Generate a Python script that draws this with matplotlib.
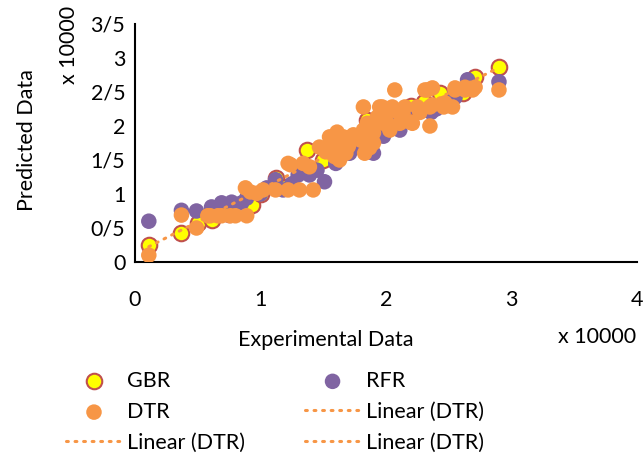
import matplotlib
matplotlib.use("Agg")
import matplotlib.pyplot as plt
import numpy as np
from matplotlib.ticker import FuncFormatter

plt.rcParams['font.family'] = ['Lato', 'DejaVu Sans']

# values in units of 10000
gbr_x = [0.11, 0.37, 0.50, 0.61, 0.75, 0.93, 1.00, 1.12, 1.20, 1.37, 1.50, 1.60,
         1.70, 1.85, 2.00, 2.20, 2.30, 2.43, 2.61, 2.71, 2.90]
gbr_y = [0.25, 0.43, 0.57, 0.62, 0.70, 0.84, 1.00, 1.23, 1.10, 1.65, 1.50, 1.60,
         1.80, 2.09, 2.10, 2.30, 2.35, 2.49, 2.49, 2.72, 2.87]

rfr_x = [0.11, 0.37, 0.49, 0.61, 0.69, 0.77, 0.85, 0.89, 1.00, 1.05, 1.12, 1.18,
         1.25, 1.30, 1.39, 1.45, 1.51, 1.60, 1.71, 1.75, 1.87, 1.90, 1.95, 1.98,
         2.03, 2.11, 2.15, 2.28, 2.36, 2.40, 2.46, 2.55, 2.55, 2.65, 2.90]
rfr_y = [0.60, 0.76, 0.75, 0.81, 0.87, 0.88, 0.87, 0.94, 1.00, 1.09, 1.21, 1.06,
         1.15, 1.28, 1.28, 1.35, 1.18, 1.45, 1.60, 1.70, 1.62, 1.60, 2.00, 1.85,
         2.15, 1.94, 2.22, 2.22, 2.20, 2.25, 2.30, 2.42, 2.50, 2.68, 2.65]

dtr_x = [0.11, 0.37, 0.49, 0.58, 0.60, 0.66, 0.69, 0.76, 0.80, 0.89, 0.88, 0.92,
         0.97, 1.02, 1.12, 1.22, 1.31, 1.42, 1.24, 1.34, 1.39, 1.22, 1.47, 1.55,
         1.59, 1.63, 1.66, 1.74, 1.82, 1.82, 1.97, 1.90, 1.98, 2.07, 2.33, 2.37,
         2.55, 2.63, 2.69, 2.90, 1.95, 2.05, 2.15, 2.25, 2.35, 2.46, 2.53, 2.35,
         1.93, 2.14, 2.19, 1.90, 2.03, 1.85, 1.93, 2.01, 2.11, 2.21, 1.61, 1.72,
         1.80, 1.87, 1.83, 1.68, 1.63, 2.31, 2.47, 2.55, 2.63, 2.71, 2.37, 2.45,
         1.52, 1.58, 1.70, 2.00, 2.08, 2.27]
dtr_y = [0.10, 0.69, 0.50, 0.68, 0.68, 0.68, 0.68, 0.68, 0.68, 0.68, 1.09, 1.03,
         1.01, 1.06, 1.06, 1.06, 1.06, 1.06, 1.43, 1.45, 1.40, 1.45, 1.69, 1.84,
         1.55, 1.50, 1.84, 1.87, 1.94, 2.28, 2.28, 1.90, 2.04, 2.53, 2.53, 2.56,
         2.53, 2.53, 2.53, 2.53, 2.28, 2.28, 2.28, 2.28, 2.28, 2.28, 2.28, 2.00,
         2.13, 2.09, 2.06, 1.75, 1.94, 2.04, 2.04, 2.04, 2.04, 2.04, 1.91, 1.84,
         1.79, 1.68, 1.60, 1.60, 1.74, 2.53, 2.34, 2.56, 2.57, 2.57, 2.31, 2.31,
         1.62, 1.72, 1.70, 2.18, 2.22, 2.20]

x_ticks = [0, 1, 2, 3, 4]
y_ticks = [0, 0.5, 1, 1.5, 2, 2.5, 3, 3.5]

ORANGE = '#F79646'
PURPLE = '#8064A2'
YELLOW = '#FFFF00'
RED = '#C0504D'
FS = 15.5

fig = plt.figure(figsize=(6.43, 4.58), dpi=100)
ax = fig.add_axes([135/643, 1-262/458, 502/643, 238/458])

s = 125
sc_g = ax.scatter(gbr_x, gbr_y, s=s, c=YELLOW, edgecolors=RED, linewidths=1.5, label='GBR', zorder=2)
sc_r = ax.scatter(rfr_x, rfr_y, s=s, c=PURPLE, edgecolors='none', label='RFR', zorder=3)
sc_d = ax.scatter(dtr_x, dtr_y, s=s, c=ORANGE, edgecolors='none', label='DTR', zorder=4)

# linear trendline of DTR
m, b = np.polyfit(dtr_x, dtr_y, 1)
tx = np.array([min(dtr_x), max(dtr_x)])
trend, = ax.plot(tx, m*tx + b, color=ORANGE, lw=2.2, ls=(0, (0.6, 2.2)),
                 dash_capstyle='round', zorder=5)

ax.set_xlim(0, 4)
ax.set_ylim(0, 3.5)
ax.set_xticks(x_ticks)
ax.set_yticks(y_ticks)
ax.yaxis.set_major_formatter(FuncFormatter(lambda v, p: f"{v:g}".replace('.', '/')))
ax.tick_params(length=0, labelsize=FS)
ax.tick_params(axis='x', pad=20)
ax.tick_params(axis='y', pad=7)
for sp in ['top', 'right']:
    ax.spines[sp].set_visible(False)
for sp in ['left', 'bottom']:
    ax.spines[sp].set_linewidth(1.5)

ax.set_xlabel('Experimental Data', fontsize=FS)
ax.xaxis.set_label_coords((326-135)/502, (262-340)/238)
ax.xaxis.label.set_va('center')
ax.set_ylabel('Predicted Data', fontsize=FS)
ax.yaxis.set_label_coords((27-135)/502, (262-140)/238)
ax.yaxis.label.set_va('center')

fig.text(597/643, 1-337/458, 'x 10000', fontsize=FS, ha='center', va='center')
fig.text(69/643, 1-45/458, 'x 10000', fontsize=FS, ha='center', va='center', rotation=90)

handles = [sc_g, sc_d, trend, sc_r, trend, trend]
labels = ['GBR', 'DTR', 'Linear (DTR)', 'RFR', 'Linear (DTR)', 'Linear (DTR)']
fig.legend(handles, labels, ncol=2, loc='upper left', bbox_to_anchor=(66/643, 1-371/458),
           frameon=False, fontsize=FS, scatterpoints=1, handlelength=2.6,
           handletextpad=0.25, columnspacing=2.75, labelspacing=0.5,
           borderpad=0, borderaxespad=0)

fig.savefig('out.png', dpi=100)
